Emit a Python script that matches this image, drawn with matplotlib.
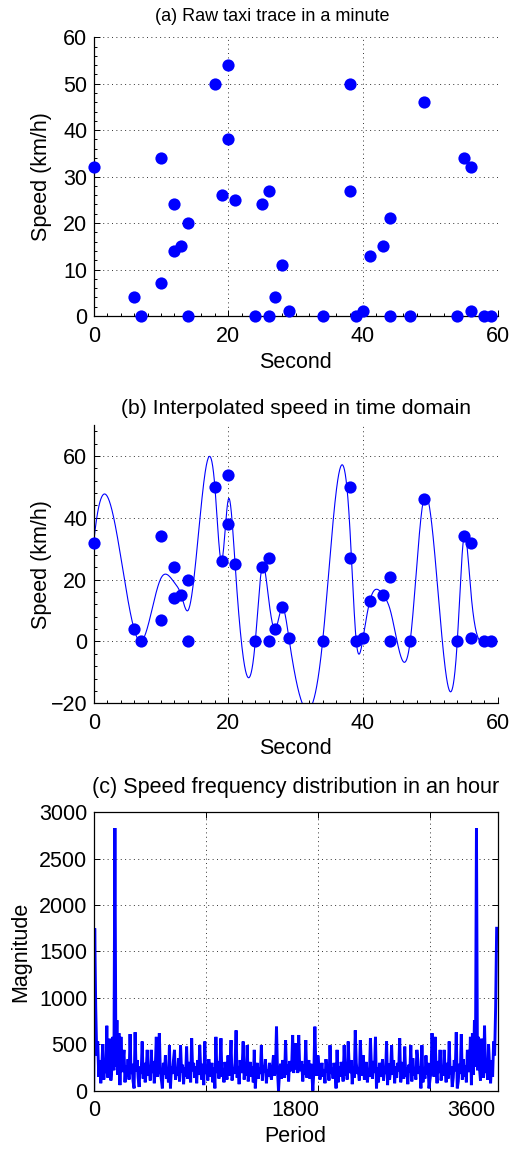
import numpy as np
import matplotlib
matplotlib.use("Agg")
import matplotlib.pyplot as plt
import matplotlib.transforms as mtransforms
from matplotlib.ticker import AutoMinorLocator, MultipleLocator

plt.rcParams['font.family'] = ['Liberation Sans', 'DejaVu Sans']

# Raw GPS speed samples of one taxi during one minute
trace_seconds = [0, 6, 7, 10, 10, 12, 12, 13, 14, 14, 18, 19, 20, 20, 21, 24, 25,
                 26, 26, 27, 28, 29, 34, 38, 38, 39, 40, 41, 43, 44, 44, 47, 49,
                 54, 55, 56, 56, 58, 59]
trace_speed = [32, 4, 0, 34, 7, 24, 14, 15, 20, 0, 50, 26, 54, 38, 25, 0, 24,
               27, 0, 4, 11, 1, 0, 50, 27, 0, 1, 13, 15, 21, 0, 0, 46,
               0, 34, 32, 1, 0, 0]

# Spectrum magnitude of the hour-long speed series (bins 0..1800, every 9th bin;
# the upper half of the spectrum mirrors this one)
spectrum_bin_step = 9
spectrum_half = [
    0, 1750, 900, 380, 530, 150, 330, 80, 260, 500,
    120, 300, 190, 700, 140, 280, 560, 110, 240, 580,
    220, 2830, 260, 760, 170, 620, 60, 580, 200, 310,
    440, 90, 270, 150, 340, 120, 610, 180, 290, 100,
    25, 630, 210, 330, 140, 40, 260, 180, 530, 130,
    300, 90, 220, 440, 160, 270, 110, 440, 190, 320,
    80, 250, 580, 150, 280, 620, 200, 120, 25, 300,
    170, 380, 130, 240, 90, 490, 25, 260, 180, 330,
    440, 120, 230, 160, 350, 100, 490, 200, 280, 70,
    250, 150, 475, 130, 310, 190, 90, 565, 210, 300,
    140, 260, 80, 330, 170, 490, 220, 120, 290, 60,
    530, 180, 240, 110, 340, 200, 150, 300, 90, 250,
    25, 580, 190, 320, 130, 260, 565, 150, 230, 90,
    310, 200, 120, 380, 160, 270, 545, 110, 240, 180,
    300, 650, 140, 260, 70, 330, 190, 250, 530, 120,
    280, 160, 490, 100, 230, 310, 150, 260, 90, 440,
    25, 210, 300, 130, 250, 180, 490, 110, 270, 200,
    340, 80, 230, 150, 300, 190, 120, 260, 380, 160,
    240, 690, 210, 0, 180, 290, 130, 330, 220, 140,
    545, 170, 280, 100, 320, 210, 250, 600, 190, 510,
    230,
]

BLUE = (0, 0, 1)
FS_LABEL = 15.5


def not_a_knot_spline(x, y, xq):
    """Cubic spline with not-a-knot end conditions evaluated at xq."""
    x = np.asarray(x, float)
    y = np.asarray(y, float)
    n = len(x)
    h = np.diff(x)
    A = np.zeros((n, n))
    b = np.zeros(n)
    A[0, 0], A[0, 1], A[0, 2] = h[1], -(h[0] + h[1]), h[0]
    A[-1, -3], A[-1, -2], A[-1, -1] = h[-1], -(h[-2] + h[-1]), h[-2]
    for i in range(1, n - 1):
        A[i, i - 1] = h[i - 1]
        A[i, i] = 2 * (h[i - 1] + h[i])
        A[i, i + 1] = h[i]
        b[i] = 6 * ((y[i + 1] - y[i]) / h[i] - (y[i] - y[i - 1]) / h[i - 1])
    M = np.linalg.solve(A, b)
    idx = np.clip(np.searchsorted(x, xq) - 1, 0, n - 2)
    x0, x1 = x[idx], x[idx + 1]
    hh = x1 - x0
    return (M[idx] * (x1 - xq) ** 3 / (6 * hh) + M[idx + 1] * (xq - x0) ** 3 / (6 * hh)
            + (y[idx] / hh - M[idx] * hh / 6) * (x1 - xq)
            + (y[idx + 1] / hh - M[idx + 1] * hh / 6) * (xq - x0))


def style_axes(ax, box):
    for side in ('left', 'bottom'):
        ax.spines[side].set_linewidth(0.9)
    for side in ('top', 'right'):
        ax.spines[side].set_visible(box)
        ax.spines[side].set_linewidth(0.9)
    ax.grid(True, linestyle=(0, (1, 3.5)), color='#333333', linewidth=0.7)
    ax.set_axisbelow(True)
    ax.tick_params(which='both', direction='in', top=box, right=box,
                   labelsize=FS_LABEL, width=0.7)
    ax.tick_params(axis='x', which='major', length=4, pad=7)
    ax.tick_params(axis='y', which='major', length=4, pad=4.5)
    ax.tick_params(which='minor', length=2.2)


def panel_title(ax, text, x, y, size):
    ax.text(x, y, text, transform=ax.transAxes, ha='center', va='center',
            fontsize=size)


fig = plt.figure(figsize=(5.12, 11.51), dpi=100)
ax_a = fig.add_axes([0.183, 0.7255, 0.789, 0.2421])
ax_b = fig.add_axes([0.183, 0.389, 0.789, 0.2417])
ax_c = fig.add_axes([0.183, 0.0524, 0.789, 0.2419])

# (a) raw samples
ax_a.plot(trace_seconds, trace_speed, 'o', color=BLUE, markersize=8.8,
          markeredgewidth=0, clip_on=False, zorder=3)
ax_a.set_xlim(0, 60)
ax_a.set_ylim(0, 60)
ax_a.xaxis.set_major_locator(MultipleLocator(20))
ax_a.yaxis.set_major_locator(MultipleLocator(10))
ax_a.xaxis.set_minor_locator(AutoMinorLocator(10))
ax_a.yaxis.set_minor_locator(AutoMinorLocator(5))
style_axes(ax_a, box=False)
ax_a.set_xlabel('Second', fontsize=FS_LABEL)
ax_a.set_ylabel('Speed (km/h)', fontsize=FS_LABEL)
ax_a.xaxis.set_label_coords(0.5, -0.168)
ax_a.xaxis.label.set_va('center')
ax_a.yaxis.set_label_coords(-0.128, 0.5)
ax_a.yaxis.label.set_va('center')
panel_title(ax_a, '(a) Raw taxi trace in a minute', 0.441, 1.076, 13.0)

# (b) spline through the per-second mean speed
sec = np.asarray(trace_seconds)
spd = np.asarray(trace_speed, float)
knots = np.unique(sec)
knot_speed = np.array([spd[sec == s].mean() for s in knots])
t = np.linspace(knots[0], knots[-1], 2000)
ax_b.plot(t, not_a_knot_spline(knots, knot_speed, t), color=BLUE, linewidth=0.8,
          zorder=2)
ax_b.plot(trace_seconds, trace_speed, 'o', color=BLUE, markersize=8.8,
          markeredgewidth=0, clip_on=False, zorder=3)
ax_b.set_xlim(0, 60)
ax_b.set_ylim(-20, 70)
ax_b.set_yticks([-20, 0, 20, 40, 60])
ax_b.xaxis.set_major_locator(MultipleLocator(20))
ax_b.xaxis.set_minor_locator(AutoMinorLocator(10))
ax_b.yaxis.set_minor_locator(MultipleLocator(4))
style_axes(ax_b, box=False)
ax_b.set_xlabel('Second', fontsize=FS_LABEL)
ax_b.set_ylabel('Speed (km/h)', fontsize=FS_LABEL)
ax_b.xaxis.set_label_coords(0.5, -0.163)
ax_b.xaxis.label.set_va('center')
ax_b.yaxis.set_label_coords(-0.128, 0.5)
ax_b.yaxis.label.set_va('center')
panel_title(ax_b, '(b) Interpolated speed in time domain', 0.5, 1.061, 15.2)

# (c) magnitude spectrum over one hour
half = np.asarray(spectrum_half, float)
k = np.arange(len(half)) * spectrum_bin_step
n_total = 2 * k[-1]
bins = np.concatenate([k, n_total - k[1:-1][::-1]])
mag = np.concatenate([half, half[1:-1][::-1]])
ax_c.plot(bins, mag, color=BLUE, linewidth=2.1, solid_joinstyle='miter')
ax_c.set_xlim(0, n_total)
ax_c.set_ylim(0, 3000)
ax_c.set_xticks([0, 1000, 2000, 3000])
ax_c.set_xticklabels([])
ax_c.yaxis.set_major_locator(MultipleLocator(500))
style_axes(ax_c, box=True)
period_ticks = [(0, 0), (1800, 0), (n_total, -19)]
for xv, dx in period_ticks:
    off = mtransforms.offset_copy(ax_c.get_xaxis_transform(), fig=fig,
                                  x=dx, y=0, units='points')
    ax_c.text(xv, -0.035, f'{xv:g}', transform=off, ha='center', va='top',
              fontsize=FS_LABEL)
ax_c.set_xlabel('Period', fontsize=FS_LABEL)
ax_c.set_ylabel('Magnitude', fontsize=FS_LABEL)
ax_c.xaxis.set_label_coords(0.5, -0.166)
ax_c.xaxis.label.set_va('center')
ax_c.yaxis.set_label_coords(-0.18, 0.5)
ax_c.yaxis.label.set_va('center')
panel_title(ax_c, '(c) Speed frequency distribution in an hour', 0.5, 1.089, 15.6)

fig.savefig('out.png', dpi=100)
